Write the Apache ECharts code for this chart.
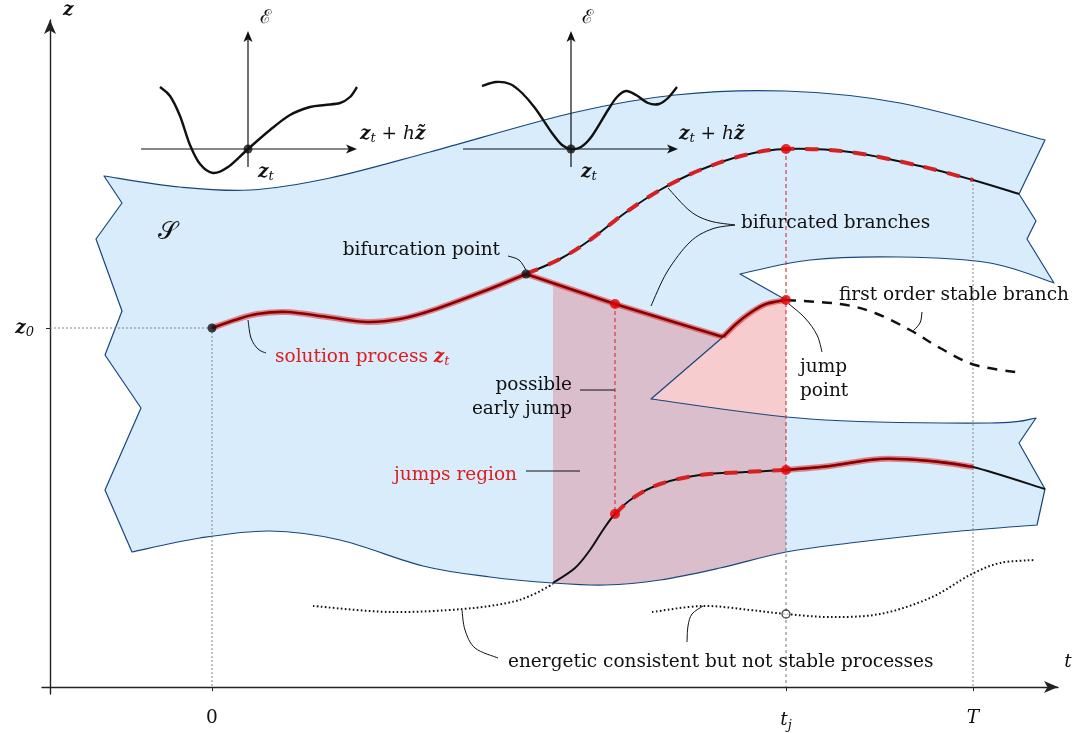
<!DOCTYPE html>
<html>
<head>
<meta charset="utf-8">
<title>jump of the solution process</title>
<script src="https://cdn.jsdelivr.net/npm/echarts@6/dist/echarts.min.js"></script>
<style>
  html, body { margin: 0; padding: 0; background: #fff; }
  #main { width: 1081px; height: 733px; }
</style>
</head>
<body>
<div id="main"></div>
<script>
  var FONT = '"DejaVu Serif", "Liberation Serif", serif';
  var FS = 18.5;
  var INK = '#111';
  var RED = '#dd1c1c';
  var SHEET = '#d8ecfc';
  var EDGE = '#17467d';

  // sheet S (diagram units: t to the right, z measured downward on screen)
  var sheetTop = [[104, 176], [180, 187], [250, 190], [330, 178], [430, 152], [572, 113], [675, 95], [785, 91], [900, 103], [1045, 140]];
  var sheetRightUpper = [[1045, 140], [1019, 194], [1036, 221], [1027, 239], [1054, 283]];
  var foldUpper = [[1054, 283], [990, 263], [900, 257], [810, 260], [740, 274]];
  var foldTip = [[740, 274], [786, 300]];
  var jumpCurve = [[723, 337], [736, 324], [750, 313], [766, 304], [786, 300]];
  var foldLower = [[723, 337], [651, 399]];
  var sheetLowerTop = [[651, 399], [810, 419], [990, 423], [1036, 418]];
  var sheetRightLower = [[1036, 418], [1019, 443], [1045, 489], [1037, 525]];
  var sheetBottom = [[1037, 525], [950, 532], [850, 543], [786, 552], [720, 568], [660, 580], [605, 585], [553, 583], [490, 577], [423, 566], [340, 540], [270, 531], [200, 538], [132, 552]];
  var sheetLeft = [[132, 552], [105, 490], [141, 408], [105, 355], [122, 311], [96, 239], [122, 203], [104, 176]];

  // processes
  var solutionPath = [[212, 328], [235, 320], [257, 314], [287, 312], [327, 317], [367, 322], [400, 319], [433, 310], [487, 290], [526, 274]];
  var earlyPath = [[526, 274], [615, 304], [723, 337]];
  var upperBranch = [[526, 274], [560, 259], [590, 240], [625, 213], [660, 190], [700, 170], [745, 155], [786, 149], [850, 152], [920, 166], [973, 180], [1019, 194]];
  var lowerBranch = [[553, 583], [575, 568], [590, 550], [603, 530], [615, 514], [633, 498], [660, 484], [700, 475], [745, 472], [786, 470], [830, 466], [880, 459], [930, 461], [973, 467], [1045, 489]];
  var stableBranch = [[786, 300], [840, 304], [875, 313], [910, 330], [940, 348], [975, 365], [1023, 373]];
  var unstableLeft = [[313, 606], [390, 612], [463, 609], [507, 603], [530, 596], [553, 584]];
  var unstableRight = [[652, 612], [703, 606], [750, 610], [786, 614], [830, 617], [880, 614], [930, 598], [970, 575], [1000, 563], [1035, 560]];

  // energy insets
  var energy1 = [[160, 87], [170, 96], [180, 116], [190, 145], [200, 164], [213, 173], [228, 167], [248, 149], [270, 130], [290, 115], [310, 107], [325, 105], [340, 103], [350, 97], [357, 87]];
  var energy2 = [[482, 86], [496, 82], [510, 84], [522, 93], [535, 108], [552, 133], [562, 145], [571, 149], [581, 147], [592, 136], [608, 110], [617, 97], [626, 91], [636, 95], [648, 103], [659, 104], [668, 98], [677, 87]];

  var redPoints = [[615, 304], [786, 300], [786, 149], [615, 514], [786, 470]];
  var blackPoints = [[212, 328], [526, 274], [248, 149], [571, 149]];
  var openPoints = [[786, 614]];

  var tTicks = [212, 786, 973];
  var tTickNames = ['{n|0}', '{i|t}{s|j}', '{i|T}'];
  var zTicks = [328];
  var zTickNames = ['{z|z}{s|0}'];

  function rich(size, extra) {
    var o = { fontFamily: FONT, fontSize: size, fill: INK, color: INK };
    for (var k in extra) o[k] = extra[k];
    return o;
  }
  var RICH = {
    n: rich(FS, {}),
    r: rich(FS, { fill: RED, color: RED }),
    i: rich(FS, { fontStyle: 'italic' }),
    z: rich(FS, { fontStyle: 'italic', fontWeight: 'bold' }),
    zr: rich(FS, { fontStyle: 'italic', fontWeight: 'bold', fill: RED, color: RED }),
    s: rich(13, { fontStyle: 'italic', padding: [10, 0, 0, 0] }),
    sr: rich(13, { fontStyle: 'italic', padding: [10, 0, 0, 0], fill: RED, color: RED }),
    cal: rich(19, {}),
    calS: rich(25, {})
  };

  var labels = [
    { at: [265, 18], text: '{cal|ℰ}', align: 'center' },
    { at: [587, 18], text: '{cal|ℰ}', align: 'center' },
    { at: [258, 172], text: '{z|z}{s|t}', align: 'left' },
    { at: [581, 172], text: '{z|z}{s|t}', align: 'left' },
    { at: [360, 134], text: '{z|z}{s|t}{n| + }{i|h}{z|z̃}', align: 'left' },
    { at: [679, 134], text: '{z|z}{s|t}{n| + }{i|h}{z|z̃}', align: 'left' },
    { at: [167, 232], text: '{calS|𝒮}', align: 'center' },
    { at: [500, 250], text: 'bifurcation point', align: 'right' },
    { at: [741, 223], text: 'bifurcated branches', align: 'left' },
    { at: [839, 295], text: 'first order stable branch', align: 'left' },
    { at: [800, 367], text: 'jump', align: 'left' },
    { at: [800, 391], text: 'point', align: 'left' },
    { at: [275, 357], text: '{r|solution process }{zr|z}{sr|t}', align: 'left' },
    { at: [572, 385], text: 'possible', align: 'right' },
    { at: [572, 409], text: 'early jump', align: 'right' },
    { at: [517, 475], text: '{r|jumps region}', align: 'right' },
    { at: [508, 662], text: 'energetic consistent but not stable processes', align: 'left' },
    { at: [63, 10], text: '{z|z}', align: 'left' },
    { at: [1068, 662], text: '{i|t}', align: 'center' }
  ];

  // catmull-rom through the points, in pixel space
  function toPath(parts, api, closed) {
    var d = '';
    parts.forEach(function (part, k) {
      var p = part.pts.map(function (v) { return api.coord(v); });
      d += (k === 0 ? 'M' : 'L') + p[0][0] + ' ' + p[0][1];
      for (var i = 0; i < p.length - 1; i++) {
        var a = p[i], b = p[i + 1];
        if (part.smooth) {
          var o = p[i - 1] || a, c = p[i + 2] || b;
          d += 'C' + (a[0] + (b[0] - o[0]) / 6) + ' ' + (a[1] + (b[1] - o[1]) / 6) + ' ' +
            (b[0] - (c[0] - a[0]) / 6) + ' ' + (b[1] - (c[1] - a[1]) / 6) + ' ' + b[0] + ' ' + b[1];
        } else {
          d += 'L' + b[0] + ' ' + b[1];
        }
      }
    });
    return closed ? d + 'Z' : d;
  }

  function shape(parts, style, z, closed) {
    return {
      type: 'custom', silent: true, z: z, data: [parts[0].pts[0]],
      renderItem: function (params, api) {
        return { type: 'path', shape: { pathData: toPath(parts, api, closed) }, style: style };
      }
    };
  }
  function curve(pts, style, z) { return shape([{ pts: pts, smooth: true }], style, z, false); }
  function straight(pts, style, z) { return shape([{ pts: pts }], style, z, false); }
  function line(color, width, dash) {
    return { fill: 'none', stroke: color, lineWidth: width, lineDash: dash || null, lineCap: 'butt', lineJoin: 'round' };
  }

  function arrow(from, to, z) {
    return {
      type: 'custom', silent: true, z: z, data: [from],
      renderItem: function (params, api) {
        var a = api.coord(from), b = api.coord(to);
        var dx = b[0] - a[0], dy = b[1] - a[1], len = Math.sqrt(dx * dx + dy * dy);
        var ux = dx / len, uy = dy / len, L = 11, W = 4.5;
        var head = [b,
          [b[0] - ux * L - uy * W, b[1] - uy * L + ux * W],
          [b[0] - ux * L * 0.75, b[1] - uy * L * 0.75],
          [b[0] - ux * L + uy * W, b[1] - uy * L - ux * W]];
        return {
          type: 'group', children: [
            { type: 'line', shape: { x1: a[0], y1: a[1], x2: b[0] - ux * 6, y2: b[1] - uy * 6 }, style: { stroke: INK, lineWidth: 1.2 } },
            { type: 'polygon', shape: { points: head }, style: { fill: INK } }
          ]
        };
      }
    };
  }

  var sheetParts = [
    { pts: sheetTop, smooth: true },
    { pts: sheetRightUpper },
    { pts: foldUpper, smooth: true },
    { pts: foldTip },
    { pts: jumpCurve.slice().reverse(), smooth: true },
    { pts: foldLower },
    { pts: sheetLowerTop, smooth: true },
    { pts: sheetRightLower },
    { pts: sheetBottom, smooth: true },
    { pts: sheetLeft }
  ];
  var regionParts = [
    { pts: [[553, 282.6], [723, 337]] },
    { pts: jumpCurve, smooth: true },
    { pts: [[786, 300], [786, 610], [553, 610]] }
  ];
  var maskParts = [
    { pts: sheetBottom, smooth: true },
    { pts: [[132, 552], [132, 620], [1037, 620]] }
  ];

  var glow = line('rgba(222,45,45,0.55)', 6);
  var core = line('#8a0000', 2.6);
  var redDash = line('#d42222', 4, [13, 11]);
  var guide = line('#7a7a7a', 0.9, [2, 2]);
  var redGuide = line('#d43030', 1.1, [4, 3]);
  var dotted = line(INK, 2, [1.6, 2.4]);
  var thin = line(INK, 1);

  var series = [
    shape(sheetParts, { fill: SHEET }, 1, true),
    shape(regionParts, { fill: 'rgba(225,50,60,0.25)' }, 2, true),
    shape(maskParts, { fill: '#fff' }, 2, true),
    shape(sheetParts, line(EDGE, 1.2), 3, true),

    straight([[50, 328], [212, 328]], guide, 3),
    straight([[212, 328], [212, 687]], guide, 3),
    straight([[973, 180], [973, 687]], guide, 3),
    straight([[786, 470], [786, 687]], line('#666', 0.9, [3, 3]), 3),
    straight([[786, 149], [786, 470]], redGuide, 3),
    straight([[615, 304], [615, 514]], redGuide, 3),

    curve(upperBranch, line(INK, 2), 4),
    curve(lowerBranch, line(INK, 2), 4),
    curve(stableBranch, line(INK, 2.5, [10, 8]), 4),
    curve(unstableLeft, dotted, 4),
    curve(unstableRight, dotted, 4),

    curve(upperBranch.slice(0, 11), redDash, 5),
    curve(lowerBranch.slice(4, 10), redDash, 5),
    curve(solutionPath, glow, 5),
    straight(earlyPath, glow, 5),
    curve(jumpCurve, glow, 5),
    curve(lowerBranch.slice(9, 14), glow, 5),
    curve(solutionPath, core, 5),
    straight(earlyPath, core, 5),
    curve(jumpCurve, core, 5),
    curve(lowerBranch.slice(9, 14), core, 5),

    curve([[508, 256], [519, 260], [526, 270]], thin, 6),
    curve([[248, 320], [251, 338], [258, 349], [266, 353]], thin, 6),
    curve([[668, 188], [690, 211], [710, 221], [735, 225]], thin, 6),
    curve([[651, 306], [667, 272], [690, 242], [712, 229], [735, 225]], thin, 6),
    curve([[912, 332], [920, 323], [922, 312]], thin, 6),
    curve([[789, 304], [805, 318], [817, 335], [822, 352]], thin, 6),
    straight([[580, 390], [615, 390]], thin, 6),
    straight([[526, 471], [580, 471]], thin, 6),
    curve([[462, 610], [465, 630], [475, 648], [498, 658]], thin, 6),
    curve([[703, 606], [692, 614], [688, 626], [687, 642]], thin, 6),

    arrow([141, 149], [357, 149], 6),
    arrow([248, 167], [248, 31], 6),
    arrow([463, 149], [678, 149], 6),
    arrow([571, 167], [571, 31], 6),
    curve(energy1, line(INK, 2.4), 6),
    curve(energy2, line(INK, 2.4), 6),

    { type: 'scatter', silent: true, z: 8, data: redPoints, symbolSize: 10, itemStyle: { color: '#e00000' } },
    { type: 'scatter', silent: true, z: 8, data: blackPoints, symbolSize: 9, itemStyle: { color: INK } },
    { type: 'scatter', silent: true, z: 8, data: openPoints, symbolSize: 8, itemStyle: { color: '#fff', borderColor: INK, borderWidth: 1.3 } },

    {
      type: 'custom', silent: true, z: 10,
      data: labels.map(function (l) { return l.at; }),
      renderItem: function (params, api) {
        var l = labels[params.dataIndex];
        var p = api.coord(l.at);
        return {
          type: 'text', x: p[0], y: p[1],
          style: { text: l.text, fill: INK, fontFamily: FONT, fontSize: FS, align: l.align, verticalAlign: 'middle', rich: RICH }
        };
      }
    }
  ];

  var chart = echarts.init(document.getElementById('main'));
  chart.setOption({
    animation: false,
    backgroundColor: '#fff',
    grid: { left: 42, right: 23, top: 20, bottom: 39, containLabel: false, outerBoundsMode: 'none' },
    xAxis: {
      type: 'value', min: 42, max: 1058, offset: -7,
      axisLine: { onZero: false, symbol: ['none', 'arrow'], symbolSize: [9, 14], lineStyle: { color: '#222', width: 1.4 } },
      axisTick: { customValues: tTicks, length: 4, lineStyle: { color: '#222', width: 1 } },
      axisLabel: {
        customValues: tTicks, margin: 22, fontFamily: FONT, fontSize: FS, color: INK,
        formatter: function (v) { return tTickNames[tTicks.indexOf(v)] || ''; },
        rich: RICH
      },
      splitLine: { show: false }
    },
    yAxis: {
      type: 'value', inverse: true, min: 20, max: 694, offset: -8,
      axisLine: { show: true, onZero: false, symbol: ['none', 'arrow'], symbolSize: [9, 14], lineStyle: { color: '#222', width: 1.4 } },
      axisTick: { show: true, customValues: zTicks, length: 4, lineStyle: { color: '#222', width: 1 } },
      axisLabel: {
        customValues: zTicks, margin: 16, fontFamily: FONT, fontSize: FS, color: INK,
        formatter: function (v) { return zTickNames[zTicks.indexOf(v)] || ''; },
        rich: RICH
      },
      splitLine: { show: false }
    },
    series: series
  });
</script>
</body>
</html>
